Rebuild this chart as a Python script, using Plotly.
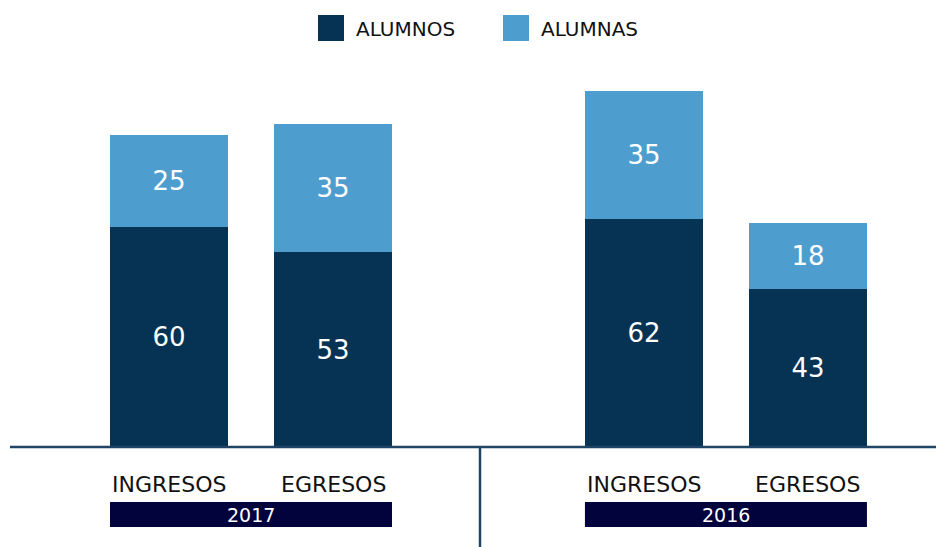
import plotly.graph_objects as go

categories = ["INGRESOS", "EGRESOS", "INGRESOS", "EGRESOS"]
groups = ["2017", "2016"]
group_of = [0, 0, 1, 1]
alumnos = [60, 53, 62, 43]
alumnas = [25, 35, 35, 18]

DARK = "#063354"
LIGHT = "#4E9DCF"
NAVY = "#02023D"
FONT = "DejaVu Sans"

W, H = 936, 547
base_px = 447
top_px = 60
px_per_unit = 3.67
group_step = 2.896
bar_w = 118 / 164
x_first_px = 169
unit_px = 164

xs = [group_of[i] * group_step + (i % 2) for i in range(len(categories))]

fig = go.Figure()
for vals, name, col in [(alumnos, "ALUMNOS", DARK), (alumnas, "ALUMNAS", LIGHT)]:
    fig.add_trace(go.Bar(x=xs, y=vals, name=name, marker=dict(color=col, line=dict(width=0)),
                         width=bar_w, text=[str(v) for v in vals], textposition="inside",
                         insidetextanchor="middle", textfont=dict(color="white", size=26, family=FONT),
                         showlegend=False, hoverinfo="skip"))

plot_h = base_px - top_px
x0 = -x_first_px / unit_px
x1 = (W - x_first_px) / unit_px

shapes = []
annotations = []

def py(pix):
    return (base_px - pix) / plot_h

# category labels
for i, c in enumerate(categories):
    annotations.append(dict(x=xs[i], y=py(484), xref="x", yref="paper", text=c, showarrow=False,
                            font=dict(family=FONT, size=22, color="#111111"), xanchor="center", yanchor="middle"))

# year boxes
for g, label in enumerate(groups):
    gx = [xs[i] for i in range(len(xs)) if group_of[i] == g]
    shapes.append(dict(type="rect", xref="x", yref="paper", x0=min(gx) - bar_w / 2, x1=max(gx) + bar_w / 2,
                       y0=py(527), y1=py(502), fillcolor=NAVY, line=dict(width=0), layer="above"))
    annotations.append(dict(x=(min(gx) + max(gx)) / 2, y=py(514.5), xref="x", yref="paper", text=label,
                            showarrow=False, font=dict(family=FONT, size=19, color="white"),
                            xanchor="center", yanchor="middle"))

# divider
shapes.append(dict(type="line", xref="paper", yref="paper", x0=480 / W, x1=480 / W, y0=0, y1=py(547),
                   line=dict(color="#1F4466", width=2.5)))
# baseline
shapes.append(dict(type="line", xref="paper", yref="paper", x0=10 / W, x1=1, y0=0, y1=0,
                   line=dict(color="#1F4466", width=2.5)))

# legend
legend_items = [("ALUMNOS", DARK, 318), ("ALUMNAS", LIGHT, 503)]
for name, col, lx in legend_items:
    shapes.append(dict(type="rect", xref="paper", yref="paper", x0=lx / W, x1=(lx + 26) / W,
                       y0=py(41), y1=py(15), fillcolor=col, line=dict(width=0)))
    annotations.append(dict(x=(lx + 36) / W, y=py(28.5), xref="paper", yref="paper", text=name, showarrow=False,
                            font=dict(family=FONT, size=20, color="#111111"), xanchor="left", yanchor="middle"))

fig.update_layout(
    width=W, height=H, barmode="stack",
    margin=dict(l=0, r=0, t=top_px, b=H - base_px),
    plot_bgcolor="white", paper_bgcolor="white",
    xaxis=dict(range=[x0, x1], showticklabels=False, showgrid=False, zeroline=False, showline=False, fixedrange=True),
    yaxis=dict(range=[0, plot_h / px_per_unit], showticklabels=False, showgrid=False, zeroline=False, showline=False),
    shapes=shapes, annotations=annotations, showlegend=False,
    font=dict(family=FONT),
    uniformtext=dict(mode="show", minsize=26),
)

fig.write_html("out.html", config={"displayModeBar": False},
               post_script="document.body.style.margin='0px';document.body.style.overflow='hidden';")
